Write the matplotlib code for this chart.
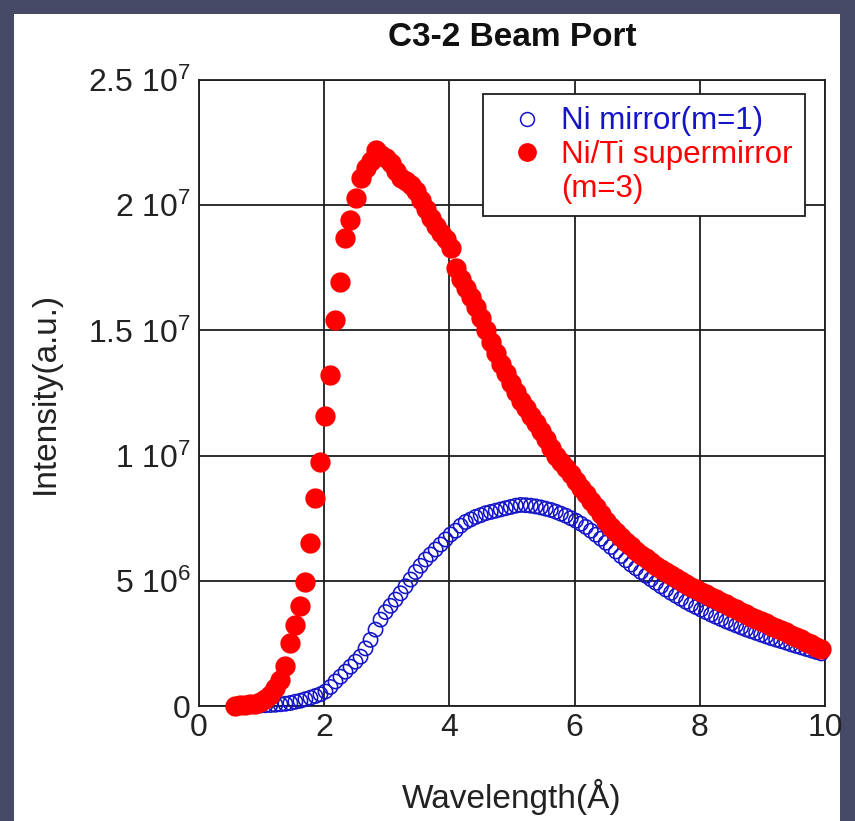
import numpy as np
import matplotlib
matplotlib.use("Agg")
import matplotlib.pyplot as plt
from matplotlib.lines import Line2D
from matplotlib.patches import Rectangle

# wavelength bins (Angstrom)
wavelength = [
    0.58, 0.66, 0.74, 0.82, 0.90, 0.98, 1.06, 1.14, 1.22, 1.30,
    1.38, 1.46, 1.54, 1.62, 1.70, 1.78, 1.86, 1.94, 2.02, 2.10,
    2.18, 2.26, 2.34, 2.42, 2.50, 2.58, 2.66, 2.74, 2.82, 2.90,
    2.98, 3.06, 3.14, 3.22, 3.30, 3.38, 3.46, 3.54, 3.62, 3.70,
    3.78, 3.86, 3.94, 4.02, 4.10, 4.18, 4.26, 4.34, 4.42, 4.50,
    4.58, 4.66, 4.74, 4.82, 4.90, 4.98, 5.06, 5.14, 5.22, 5.30,
    5.38, 5.46, 5.54, 5.62, 5.70, 5.78, 5.86, 5.94, 6.02, 6.10,
    6.18, 6.26, 6.34, 6.42, 6.50, 6.58, 6.66, 6.74, 6.82, 6.90,
    6.98, 7.06, 7.14, 7.22, 7.30, 7.38, 7.46, 7.54, 7.62, 7.70,
    7.78, 7.86, 7.94, 8.02, 8.10, 8.18, 8.26, 8.34, 8.42, 8.50,
    8.58, 8.66, 8.74, 8.82, 8.90, 8.98, 9.06, 9.14, 9.22, 9.30,
    9.38, 9.46, 9.54, 9.62, 9.70, 9.78, 9.86, 9.94,
]

# intensities in units of 1e6
ni_mirror = [
    0.0, 0.0, 0.0, 0.0, 0.01, 0.02, 0.03, 0.04, 0.05, 0.07,
    0.09, 0.12, 0.17, 0.21, 0.27, 0.33, 0.40, 0.47, 0.58, 0.76,
    0.98, 1.17, 1.37, 1.57, 1.77, 1.97, 2.30, 2.64, 3.05, 3.45,
    3.75, 4.00, 4.25, 4.50, 4.78, 5.05, 5.35, 5.60, 5.85, 6.05,
    6.25, 6.45, 6.65, 6.85, 7.00, 7.20, 7.35, 7.45, 7.55, 7.62,
    7.70, 7.75, 7.80, 7.85, 7.90, 7.95, 8.00, 8.03, 8.02, 8.00,
    7.97, 7.93, 7.88, 7.83, 7.76, 7.68, 7.60, 7.50, 7.40, 7.28,
    7.15, 7.00, 6.84, 6.68, 6.52, 6.35, 6.17, 5.99, 5.82, 5.65,
    5.50, 5.35, 5.20, 5.06, 4.92, 4.78, 4.65, 4.52, 4.40, 4.28,
    4.16, 4.05, 3.95, 3.85, 3.75, 3.65, 3.56, 3.47, 3.38, 3.30,
    3.22, 3.14, 3.06, 2.99, 2.92, 2.85, 2.78, 2.71, 2.65, 2.59,
    2.53, 2.46, 2.40, 2.34, 2.28, 2.22, 2.16, 2.10,
]

supermirror = [
    0.00, 0.03, 0.04, 0.06, 0.09, 0.15, 0.27, 0.45, 0.70, 1.05,
    1.60, 2.50, 3.25, 4.00, 4.95, 6.50, 8.30, 9.75, 11.6, 13.2,
    15.4, 16.95, 18.7, 19.4, 20.3, 21.1, 21.5, 21.75, 22.2, 22.0,
    21.9, 21.7, 21.35, 21.1, 20.95, 20.8, 20.55, 20.2, 19.85, 19.5,
    19.15, 18.9, 18.65, 18.3, 17.5, 17.05, 16.7, 16.35, 15.95, 15.5,
    15.0, 14.55, 14.1, 13.65, 13.3, 12.9, 12.55, 12.2, 11.9, 11.6,
    11.3, 11.0, 10.65, 10.3, 10.0, 9.75, 9.5, 9.25, 9.0, 8.7,
    8.45, 8.2, 7.95, 7.65, 7.4, 7.15, 6.95, 6.75, 6.55, 6.4,
    6.2, 6.05, 5.9, 5.75, 5.6, 5.47, 5.34, 5.22, 5.1, 4.98,
    4.87, 4.76, 4.66, 4.56, 4.46, 4.36, 4.26, 4.16, 4.06, 3.96,
    3.86, 3.76, 3.66, 3.57, 3.48, 3.39, 3.30, 3.21, 3.12, 3.03,
    2.94, 2.85, 2.76, 2.66, 2.57, 2.47, 2.37, 2.27,
]

x_ticks = [0, 2, 4, 6, 8, 10]
y_ticks = [0, 5e6, 1e7, 1.5e7, 2e7, 2.5e7]
y_tick_labels = ["0", "5 10$^6$", "1 10$^7$", "1.5 10$^7$", "2 10$^7$", "2.5 10$^7$"]
series_labels = ["Ni mirror(m=1)", "Ni/Ti supermirror", "(m=3)"]

plt.rcParams["font.family"] = ["Liberation Sans", "DejaVu Sans"]
plt.rcParams["mathtext.fontset"] = "custom"
plt.rcParams["mathtext.rm"] = "Liberation Sans"
plt.rcParams["mathtext.it"] = "Liberation Sans:italic"
plt.rcParams["mathtext.bf"] = "Liberation Sans:bold"

W, H = 855, 821
fig = plt.figure(figsize=(W / 100, H / 100), dpi=100, facecolor="#474a66")
fig.patches.append(Rectangle((14 / W, 0), (840 - 14) / W, (H - 14) / H,
                             transform=fig.transFigure, facecolor="white",
                             edgecolor="none", zorder=-1))

ax = fig.add_axes([199 / W, (H - 706) / H, 626 / W, 626 / H])
ax.set_zorder(1)
ax.set_axisbelow(True)

blue = "#1414c8"
red = "#ff0000"
lam = np.array(wavelength)
ax.scatter(lam, np.array(ni_mirror) * 1e6, s=10.3 ** 2, facecolors="none",
           edgecolors=blue, linewidths=1.15, zorder=3, clip_on=False)
ax.scatter(lam, np.array(supermirror) * 1e6, s=14.6 ** 2, color=red,
           linewidths=0, zorder=4, clip_on=False)

ax.set_xlim(0, 10)
ax.set_ylim(0, 2.5e7)
ax.set_xticks(x_ticks)
ax.set_xticklabels([str(t) for t in x_ticks])
ax.set_yticks(y_ticks)
ax.set_yticklabels(y_tick_labels)
ax.tick_params(length=0, labelsize=23, colors="#222222")
ax.tick_params(axis="x", pad=5)
ax.tick_params(axis="y", pad=6)
ax.grid(True, color="#1e1e1e", linewidth=1.3)
for sp in ax.spines.values():
    sp.set_color("#1e1e1e")
    sp.set_linewidth(1.3)

handles = [
    Line2D([], [], linestyle="none", marker="o", markersize=10,
           markerfacecolor="none", markeredgecolor=blue, markeredgewidth=1.1),
    Line2D([], [], linestyle="none", marker="o", markersize=12.5,
           markerfacecolor=red, markeredgecolor=red),
    Line2D([], [], linestyle="none"),
]
leg = ax.legend(handles, series_labels, loc="upper right",
                bbox_to_anchor=((805 - 199) / 626, (706 - 94) / 626),
                borderaxespad=0, fontsize=22.5, frameon=True, fancybox=False,
                framealpha=1, edgecolor="#1e1e1e", borderpad=0.4,
                handlelength=2.0, handletextpad=0.1, labelspacing=0.12)
leg.get_frame().set_linewidth(1.3)
leg.set_zorder(5)
for txt, c in zip(leg.get_texts(), [blue, red, red]):
    txt.set_color(c)

fig.text(512 / W, 1 - 38 / H, "C3-2 Beam Port", ha="center", va="center",
         fontsize=24, fontweight="bold", color="#111111")
fig.text(512 / W, 1 - 797 / H, "Wavelength(Å)", ha="center", va="center",
         fontsize=24, color="#222222")
fig.text(45 / W, 1 - 393 / H, "Intensity(a.u.)", ha="center", va="center",
         rotation=90, fontsize=24, color="#222222")

fig.savefig("out.png", dpi=100, facecolor=fig.get_facecolor())
